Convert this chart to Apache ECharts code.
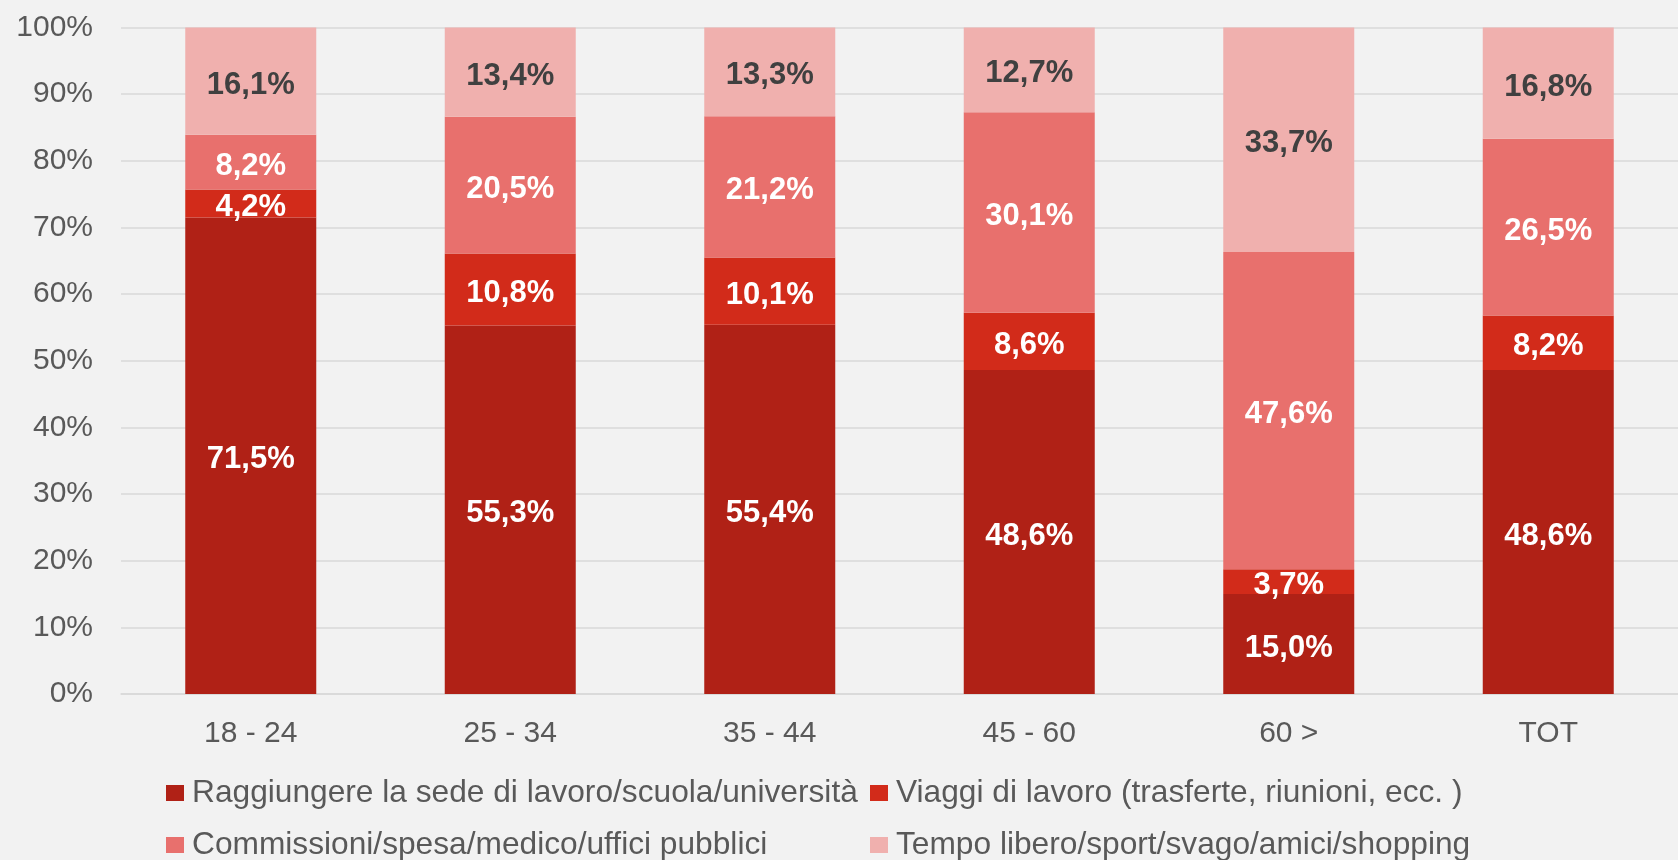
<!DOCTYPE html>
<html>
<head>
<meta charset="utf-8">
<script src="https://cdn.jsdelivr.net/npm/echarts@6/dist/echarts.min.js"></script>
<style>
  html, body { margin: 0; padding: 0; background: #f2f2f2; }
  #chart { width: 1678px; height: 860px; }
</style>
</head>
<body>
<div id="chart"></div>
<script>
var categories = ['18 - 24', '25 - 34', '35 - 44', '45 - 60', '60 >', 'TOT']
var seriesNames = [
  'Raggiungere la sede di lavoro/scuola/università',
  'Viaggi di lavoro (trasferte, riunioni, ecc. )',
  'Commissioni/spesa/medico/uffici pubblici',
  'Tempo libero/sport/svago/amici/shopping'
]
var sede = [71.5, 55.3, 55.4, 48.6, 15.0, 48.6]
var viaggi = [4.2, 10.8, 10.1, 8.6, 3.7, 8.2]
var commissioni = [8.2, 20.5, 21.2, 30.1, 47.6, 26.5]
var tempoLibero = [16.1, 13.4, 13.3, 12.7, 33.7, 16.8]

var colors = ['#b02116', '#d22b1a', '#e8706d', '#f0b0ae']
var labelColors = ['#ffffff', '#ffffff', '#ffffff', '#404040']
var values = [sede, viaggi, commissioni, tempoLibero]
var font = 'Liberation Sans'

var series = values.map(function (data, i) {
  return {
    name: seriesNames[i],
    type: 'bar',
    stack: 'tot',
    barWidth: 131,
    data: data,
    itemStyle: { color: colors[i] },
    label: {
      show: true,
      position: 'inside',
      offset: [0, 4],
      color: labelColors[i],
      fontFamily: font,
      fontWeight: 'bold',
      fontSize: 31,
      formatter: function (p) {
        return p.value.toFixed(1).replace('.', ',') + '%'
      }
    }
  }
})

var legendText = {
  color: '#595959',
  fontFamily: font,
  fontSize: 31.7,
  padding: [0, 0, 0, 3]
}

// two vertical legends so the second column lines up like the original
var chart = echarts.init(document.getElementById('chart'))
chart.setOption({
  backgroundColor: '#f2f2f2',
  animation: false,
  color: colors,
  grid: { left: 121, right: -14, top: 27.5, bottom: 166 },
  legend: [
    {
      orient: 'vertical',
      left: 166,
      top: 777,
      padding: 0,
      height: 120,
      itemWidth: 18,
      itemHeight: 16,
      itemGap: 20,
      icon: 'rect',
      data: [seriesNames[0], seriesNames[2]],
      textStyle: legendText
    },
    {
      orient: 'vertical',
      left: 870,
      top: 777,
      padding: 0,
      height: 120,
      itemWidth: 18,
      itemHeight: 16,
      itemGap: 20,
      icon: 'rect',
      data: [seriesNames[1], seriesNames[3]],
      textStyle: legendText
    }
  ],
  xAxis: {
    type: 'category',
    data: categories,
    axisTick: { show: false },
    axisLine: { lineStyle: { color: '#d9d9d9', width: 1.5 } },
    axisLabel: { color: '#595959', fontFamily: font, fontSize: 30, margin: 25 }
  },
  yAxis: {
    type: 'value',
    min: 0,
    max: 100,
    interval: 10,
    axisLine: { show: false },
    axisTick: { show: false },
    splitLine: { lineStyle: { color: '#d9d9d9', width: 1.5 } },
    axisLabel: {
      color: '#595959',
      fontFamily: font,
      fontSize: 30,
      margin: 28,
      padding: [5, 0, 0, 0],
      formatter: '{value}%'
    }
  },
  series: series
})
</script>
</body>
</html>
